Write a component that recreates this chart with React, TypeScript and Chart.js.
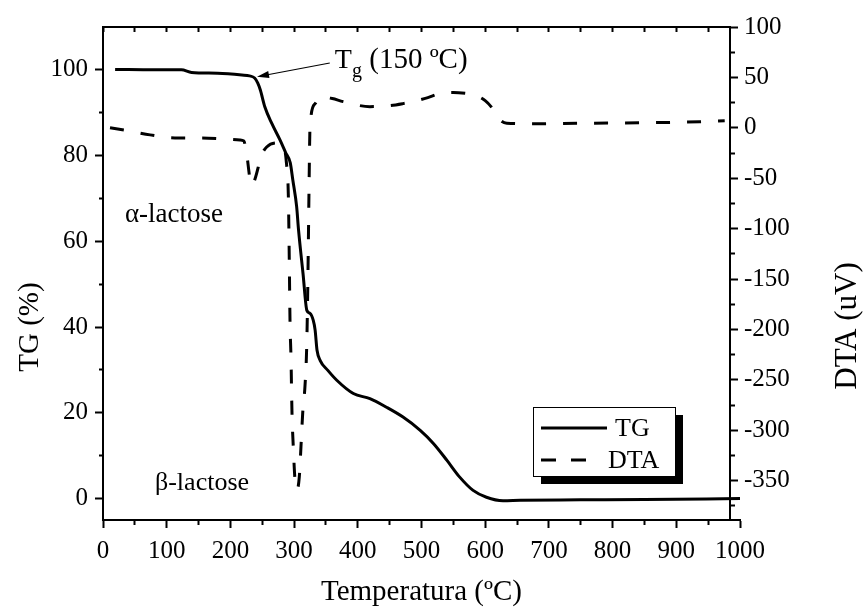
import React, { useEffect, useRef } from 'react';
import { Chart, registerables } from 'chart.js';

Chart.register(...registerables);

const FONT = '"Liberation Serif", "Times New Roman", Times, serif';

// ---- data ----
const TG_TEMP = [19, 80, 123, 139, 180, 218, 230, 238, 243, 247, 254, 265, 278, 287, 294, 298, 304, 307, 314, 320, 325, 330, 333, 336, 341, 353, 367, 393, 419, 445, 471, 498, 519, 540, 560, 581, 602, 628, 655, 750, 850, 1000];
const TG_VALUES = [100.1, 100, 100, 99.4, 99.2, 98.8, 98.6, 98.1, 96.9, 95.3, 91.4, 87.5, 83.6, 80.6, 78.3, 74.3, 68.1, 62.6, 52.5, 43.9, 43.2, 41.6, 39.3, 34.6, 32.2, 29.9, 27.6, 24.5, 23.3, 21.3, 19.0, 15.9, 12.8, 8.9, 5.0, 1.9, 0.3, -0.5, -0.4, -0.3, -0.2, 0];

const DTA_TEMP = [11, 40, 74, 113, 152, 190, 215, 221, 226, 231, 234, 239, 249, 257, 273, 283, 288, 291, 292.5, 293.6, 295.1, 296.7, 298.7, 301.4, 304.6, 308.2, 310.8, 313.5, 317.1, 319.8, 321.4, 322.3, 323.4, 325, 333, 341, 360, 377, 419, 450, 471, 487, 510, 529, 550, 571, 581, 600, 613, 623, 634, 675, 750, 850, 937, 976];
const DTA_VALUES = [0, -3, -7, -10, -10, -11, -12, -13, -28, -52, -57, -50, -27, -19, -15, -17, -35, -68, -134, -193, -227, -283, -316, -349, -359, -346, -316, -283, -256, -217, -161, -118, -62, 1, 24, 31, 29, 26, 21, 22, 24, 26, 30, 34, 35, 34, 33, 27, 18, 8, 4.5, 4, 4.5, 5, 6, 7];

const SERIES_NAMES = ['TG', 'DTA'];

const X_MAJOR = [0, 100, 200, 300, 400, 500, 600, 700, 800, 900, 1000];
const X_MINOR = [50, 150, 250, 350, 450, 550, 650, 750, 850, 950];
const Y_MAJOR = [0, 20, 40, 60, 80, 100];
const Y_MINOR = [10, 30, 50, 70, 90];
const Y2_MAJOR = [100, 50, 0, -50, -100, -150, -200, -250, -300, -350];
const Y2_MINOR = [75, 25, -25, -75, -125, -175, -225, -275, -325, -375];

const X_TITLE = 'Temperatura (ºC)';
const Y_TITLE = 'TG (%)';
const Y2_TITLE = 'DTA (uV)';
const NOTE_ALPHA = 'α-lactose';
const NOTE_BETA = 'β-lactose';
const NOTE_TG = ['T', 'g', ' (150 ºC)'];

const X_RANGE = [0, 1000];
const Y_RANGE = [-5, 110];
const Y2_RANGE = [-389, 100];
const RIGHT_FRAME_AT = 984;

const toPoints = (xs: number[], ys: number[]) => xs.map((v, i) => ({ x: v, y: ys[i] }));

const setTicks = (values: number[]) => (scale: any) => {
  scale.ticks = [...values].sort((a, b) => a - b).map((v) => ({ value: v }));
};

// minor ticks shortened with a dash pattern
const dashOut = (minor: number[], len: number) => (ctx: any) =>
  ctx.tick && minor.includes(ctx.tick.value) ? [len, 100] : [];
const dashIn = (minor: number[], full: number, len: number) => (ctx: any) =>
  ctx.tick && minor.includes(ctx.tick.value) ? [0, full - len, len + 2, 100] : [];

const framePlugin = {
  id: 'frameShift',
  afterLayout(chart: any) {
    const { x, x2, y2 } = chart.scales;
    const px = Math.round(x.getPixelForValue(RIGHT_FRAME_AT));
    y2.left = px;
    x2.right = px;
  },
};

const notesPlugin = {
  id: 'notes',
  afterDatasetsDraw(chart: any) {
    const { ctx, scales, width } = chart;
    const { x, y } = scales;
    ctx.save();
    ctx.fillStyle = '#000';
    ctx.strokeStyle = '#000';

    ctx.font = `27px ${FONT}`;
    ctx.textAlign = 'left';
    ctx.textBaseline = 'middle';
    ctx.fillText(NOTE_ALPHA, x.getPixelForValue(34.5), y.getPixelForValue(66.1));
    ctx.font = `26px ${FONT}`;
    ctx.fillText(NOTE_BETA, x.getPixelForValue(81.6), y.getPixelForValue(3.7));

    // Tg annotation
    const tx = x.getPixelForValue(364);
    const ty = y.getPixelForValue(100.5);
    ctx.textBaseline = 'alphabetic';
    ctx.font = `28px ${FONT}`;
    ctx.fillText(NOTE_TG[0], tx, ty);
    let cx = tx + ctx.measureText(NOTE_TG[0]).width;
    ctx.font = `20px ${FONT}`;
    ctx.fillText(NOTE_TG[1], cx, ty + 9);
    cx += ctx.measureText(NOTE_TG[1]).width;
    ctx.font = `29px ${FONT}`;
    ctx.fillText(NOTE_TG[2], cx, ty);

    const ax0 = x.getPixelForValue(356);
    const ay0 = y.getPixelForValue(101.6);
    const ax1 = x.getPixelForValue(241.8);
    const ay1 = y.getPixelForValue(98.4);
    const ang = Math.atan2(ay1 - ay0, ax1 - ax0);
    ctx.lineWidth = 1.2;
    ctx.beginPath();
    ctx.moveTo(ax0, ay0);
    ctx.lineTo(ax1 - 8 * Math.cos(ang), ay1 - 8 * Math.sin(ang));
    ctx.stroke();
    ctx.beginPath();
    ctx.moveTo(ax1, ay1);
    ctx.lineTo(ax1 - 12 * Math.cos(ang) + 3.5 * Math.sin(ang), ay1 - 12 * Math.sin(ang) - 3.5 * Math.cos(ang));
    ctx.lineTo(ax1 - 12 * Math.cos(ang) - 3.5 * Math.sin(ang), ay1 - 12 * Math.sin(ang) + 3.5 * Math.cos(ang));
    ctx.closePath();
    ctx.fill();

    // vertical axis titles (both read bottom-to-top)
    ctx.textAlign = 'center';
    ctx.textBaseline = 'middle';
    ctx.font = `29px ${FONT}`;
    ctx.save();
    ctx.translate(30, 327);
    ctx.rotate(-Math.PI / 2);
    ctx.fillText(Y_TITLE, 0, 0);
    ctx.restore();
    ctx.font = `31px ${FONT}`;
    ctx.save();
    ctx.translate(width - 16, 326);
    ctx.rotate(-Math.PI / 2);
    ctx.fillText(Y2_TITLE, 0, 0);
    ctx.restore();

    ctx.restore();
  },
};

const legendPlugin = {
  id: 'boxLegend',
  afterDraw(chart: any) {
    const { ctx, chartArea, data } = chart;
    const left = chartArea.left + 430;
    const top = chartArea.top + 380;
    const w = 142;
    const h = 69;
    ctx.save();
    ctx.fillStyle = '#000';
    ctx.fillRect(left + 8, top + 8, w, h);
    ctx.fillStyle = '#fff';
    ctx.fillRect(left, top, w, h);
    ctx.strokeStyle = '#000';
    ctx.lineWidth = 1;
    ctx.strokeRect(left + 0.5, top + 0.5, w, h);
    ctx.font = `26px ${FONT}`;
    ctx.textBaseline = 'middle';
    ctx.textAlign = 'left';
    data.datasets.forEach((ds: any, i: number) => {
      const yy = top + 21 + i * 32;
      ctx.beginPath();
      ctx.lineWidth = 3;
      ctx.strokeStyle = ds.borderColor;
      ctx.setLineDash(ds.borderDash && ds.borderDash.length ? [15, 15] : []);
      ctx.moveTo(left + 8, yy);
      ctx.lineTo(left + (i === 0 ? 74 : 55), yy);
      ctx.stroke();
      ctx.setLineDash([]);
      ctx.fillStyle = '#000';
      ctx.fillText(ds.label, left + (i === 0 ? 82 : 75), yy + 1);
    });
    ctx.restore();
  },
};

export default function App() {
  const ref = useRef<HTMLCanvasElement | null>(null);

  useEffect(() => {
    if (!ref.current) return;
    Chart.defaults.font.family = FONT;
    Chart.defaults.color = '#000';
    const tickFont = { family: FONT, size: 25 };
    const chart = new Chart(ref.current, {
      type: 'line',
      data: {
        datasets: [
          {
            label: SERIES_NAMES[0],
            data: toPoints(TG_TEMP, TG_VALUES),
            borderColor: '#000',
            borderWidth: 3,
            pointRadius: 0,
            cubicInterpolationMode: 'monotone',
            xAxisID: 'x',
            yAxisID: 'y',
          },
          {
            label: SERIES_NAMES[1],
            data: toPoints(DTA_TEMP, DTA_VALUES),
            borderColor: '#000',
            borderWidth: 3,
            borderDash: [14, 17],
            pointRadius: 0,
            cubicInterpolationMode: 'monotone',
            xAxisID: 'x',
            yAxisID: 'y2',
          },
        ],
      },
      options: {
        responsive: false,
        animation: false,
        layout: { padding: 0 },
        plugins: { legend: { display: false }, tooltip: { enabled: false } },
        scales: {
          x: {
            type: 'linear',
            position: 'bottom',
            min: X_RANGE[0],
            max: X_RANGE[1],
            afterBuildTicks: setTicks([...X_MAJOR, ...X_MINOR]),
            afterFit: (s: any) => { s.height = 88; },
            ticks: {
              autoSkip: false,
              maxRotation: 0,
              minRotation: 0,
              padding: 8,
              font: tickFont,
              color: '#000',
              callback: (v: any) => (X_MAJOR.includes(Number(v)) ? String(v) : ''),
            },
            grid: {
              drawOnChartArea: false,
              drawTicks: true,
              tickLength: 8,
              tickWidth: 2,
              tickColor: '#000',
              tickBorderDash: dashOut(X_MINOR, 4),
            },
            border: { display: true, color: '#000', width: 2 },
            title: { display: true, text: X_TITLE, font: { family: FONT, size: 29, lineHeight: 1.1 }, color: '#000', padding: { top: 0, bottom: 0 } },
          },
          x2: {
            type: 'linear',
            position: 'top',
            min: X_RANGE[0],
            max: X_RANGE[1],
            afterBuildTicks: setTicks([...X_MAJOR, ...X_MINOR].filter((v) => v < RIGHT_FRAME_AT)),
            afterFit: (s: any) => { s.height = 27; },
            ticks: { display: false },
            grid: {
              drawOnChartArea: false,
              drawTicks: true,
              tickLength: -5,
              tickWidth: 2,
              tickColor: '#000',
            },
            border: { display: true, color: '#000', width: 2 },
          },
          y: {
            type: 'linear',
            position: 'left',
            min: Y_RANGE[0],
            max: Y_RANGE[1],
            afterBuildTicks: setTicks([...Y_MAJOR, ...Y_MINOR]),
            afterFit: (s: any) => { s.width = 103; },
            ticks: {
              autoSkip: false,
              padding: 7,
              font: tickFont,
              color: '#000',
              callback: (v: any) => (Y_MAJOR.includes(Number(v)) ? String(v) : ''),
            },
            grid: {
              drawOnChartArea: false,
              drawTicks: true,
              tickLength: 8,
              tickWidth: 2,
              tickColor: '#000',
              tickBorderDash: dashIn(Y_MINOR, 8, 4),
            },
            border: { display: true, color: '#000', width: 2 },
            title: { display: false },
          },
          y2: {
            type: 'linear',
            position: 'right',
            min: Y2_RANGE[0],
            max: Y2_RANGE[1],
            afterBuildTicks: setTicks([...Y2_MAJOR, ...Y2_MINOR]),
            afterFit: (s: any) => { s.width = 124; },
            ticks: {
              autoSkip: false,
              padding: 6,
              font: tickFont,
              color: '#000',
              callback: (v: any) => (Y2_MAJOR.includes(Number(v)) ? String(v) : ''),
            },
            grid: {
              drawOnChartArea: false,
              drawTicks: true,
              tickLength: 8,
              tickWidth: 2,
              tickColor: '#000',
              tickBorderDash: dashOut(Y2_MINOR, 4),
            },
            border: { display: true, color: '#000', width: 2 },
            title: { display: false },
          },
        },
      },
      plugins: [framePlugin, notesPlugin, legendPlugin],
    } as any);
    return () => chart.destroy();
  }, []);

  return (
    <div style={{ position: 'absolute', left: 0, top: 0, width: 864, height: 608, background: '#fff' }}>
      <canvas ref={ref} width={864} height={608} style={{ display: 'block', width: 864, height: 608 }} />
    </div>
  );
}
